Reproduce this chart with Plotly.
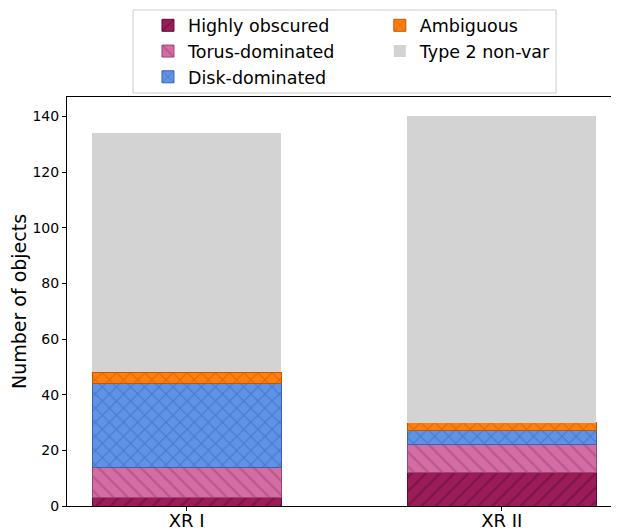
import plotly.graph_objects as go

# dados
categorias = ["XR I", "XR II"]
highly_obscured = [3, 12]
torus_dominated = [11, 10]
disk_dominated = [30, 5]
ambiguous = [4, 3]
type2_nonvar = [86, 110]

series = [
    ("Highly obscured", highly_obscured, "#9c1c5a", "#5e0d35", "/", "legend"),
    ("Torus-dominated", torus_dominated, "#d46da4", "#a04276", "\\", "legend"),
    ("Disk-dominated", disk_dominated, "#5f93e8", "#3a63a8", "x", "legend"),
    ("Ambiguous", ambiguous, "#ff7f0e", "#c25700", "x", "legend2"),
    ("Type 2 non-var", type2_nonvar, "#d3d3d3", None, "", "legend2"),
]

fig = go.Figure()
for nome, valores, cor, borda, hachura, leg in series:
    marker = dict(color=cor)
    if borda:
        marker["line"] = dict(color=borda, width=1)
        marker["pattern"] = dict(shape=hachura, fgcolor=borda, size=10,
                                 solidity=0.22, fillmode="overlay")
    else:
        marker["line"] = dict(width=0)
    fig.add_trace(go.Bar(
        x=[0, 1], y=valores, name=nome, marker=marker,
        width=0.6, legend=leg,
    ))

fonte = "DejaVu Sans, Arial, sans-serif"

# a página tem 8px de margem no body, então a figura fica 8px menor
fig.update_layout(
    barmode="stack",
    width=611, height=522,
    margin=dict(l=59, r=0, t=89, b=24, autoexpand=False),
    plot_bgcolor="white", paper_bgcolor="white",
    font=dict(family=fonte, color="black"),
    showlegend=True,
    legend=dict(
        x=0.1467, y=1.219, xanchor="left", yanchor="top",
        font=dict(size=17.5), bgcolor="rgba(0,0,0,0)",
        traceorder="normal", tracegroupgap=0, itemclick=False,
    ),
    legend2=dict(
        x=0.5667, y=1.219, xanchor="left", yanchor="top",
        font=dict(size=17.5), bgcolor="rgba(0,0,0,0)",
        traceorder="normal", tracegroupgap=0, itemclick=False,
    ),
    xaxis=dict(
        range=[-0.38, 1.372],
        tickvals=[0, 1], ticktext=categorias,
        tickfont=dict(size=18),
        showline=True, linecolor="black", linewidth=1, mirror=True,
        ticks="outside", ticklen=4, tickcolor="black",
        ticklabelstandoff=-6,
        showgrid=False, zeroline=False,
    ),
    yaxis=dict(
        range=[0, 147],
        tickvals=[0, 20, 40, 60, 80, 100, 120, 140],
        tickfont=dict(size=14),
        title=dict(text="Number of objects", font=dict(size=19), standoff=10),
        showline=True, linecolor="black", linewidth=1,
        ticks="outside", ticklen=4, tickcolor="black",
        showgrid=False, zeroline=False,
    ),
    shapes=[dict(
        type="rect", xref="paper", yref="paper",
        x0=0.1196, x1=0.886, y0=1.0098, y1=1.2127,
        line=dict(color="#cccccc", width=1),
    )],
)

fig.write_html("out.html")
